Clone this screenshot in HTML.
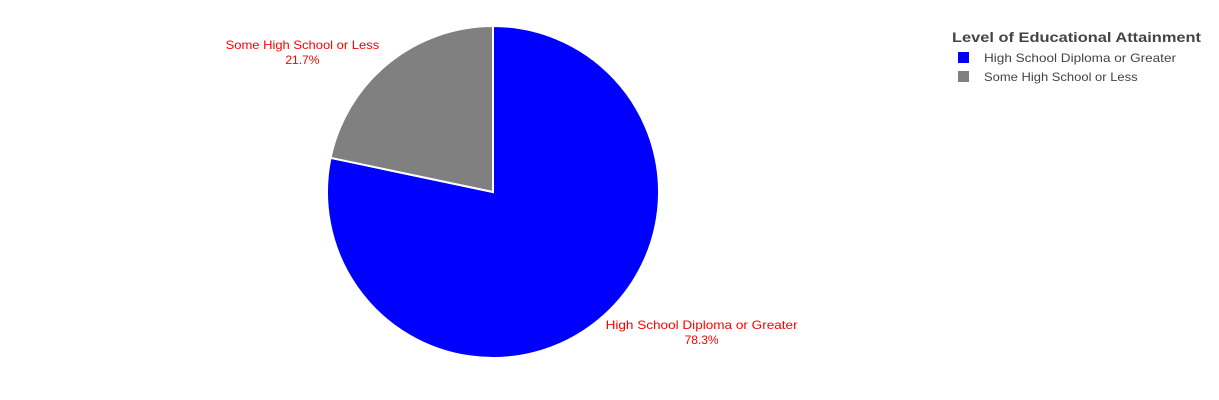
<!DOCTYPE html>
<html><head><meta charset="utf-8"><style>
html,body{margin:0;background:#fff;width:1219px;height:400px;overflow:hidden;font-family:"Liberation Sans",Arial,sans-serif;}
svg{display:block;}
</style></head><body>
<svg id="chart" width="1219" height="400" xmlns="http://www.w3.org/2000/svg">
<g id="slices"></g>
<g id="labels"></g>
<g>
<text x="952" y="42" font-size="14" font-weight="bold" fill="#444" textLength="249" lengthAdjust="spacingAndGlyphs">Level of Educational Attainment</text>
<g id="legendItems"></g>
</g>
</svg>
<script>
const categories = ["High School Diploma or Greater", "Some High School or Less"];
const values = [78.3, 21.7];
const percentLabels = ["78.3%", "21.7%"];
const colors = ["#0000ff", "#808080"];
const cx = 493, cy = 192, r = 166;
const NS = "http://www.w3.org/2000/svg";
const total = values.reduce((a,b)=>a+b,0);
function pt(frac, rad){const a=frac*2*Math.PI;return [cx+rad*Math.sin(a), cy-rad*Math.cos(a)];}
function textW(s){return s.length*6.4;}
const slicesG=document.getElementById('slices'), labelsG=document.getElementById('labels'), legG=document.getElementById('legendItems');
let acc=0;
values.forEach((v,i)=>{
  const f0=acc/total, f1=(acc+v)/total; acc+=v;
  const [x0,y0]=pt(f0,r),[x1,y1]=pt(f1,r);
  const large=(f1-f0)>0.5?1:0;
  const p=document.createElementNS(NS,'path');
  p.setAttribute('d',`M${cx},${cy}L${x0},${y0}A${r},${r} 0 ${large} 1 ${x1},${y1}Z`);
  p.setAttribute('fill',colors[i]);p.setAttribute('stroke','#fff');p.setAttribute('stroke-width','2');
  
  
  slicesG.appendChild(p);
  const mid=(f0+f1)/2;
  const [mx,my]=pt(mid,r);
  const right=mx>cx;
  const lx=right?mx+104:mx-86, ly=right?my+8:my-14;
  const t=document.createElementNS(NS,'text');
  t.setAttribute('x',lx);t.setAttribute('y',ly);t.setAttribute('text-anchor','middle');
  t.setAttribute('font-size','12');t.setAttribute('fill','#ff0000');
  
  
  const s1=document.createElementNS(NS,'tspan');s1.setAttribute('x',lx);s1.textContent=categories[i];
  s1.setAttribute('textLength',textW(categories[i]));s1.setAttribute('lengthAdjust','spacingAndGlyphs');
  const s2=document.createElementNS(NS,'tspan');s2.setAttribute('x',lx);s2.setAttribute('dy','15');s2.textContent=percentLabels[i];
  t.appendChild(s1);t.appendChild(s2);labelsG.appendChild(t);
  const g=document.createElementNS(NS,'g');
  
  
  const sq=document.createElementNS(NS,'rect');
  sq.setAttribute('x',958);sq.setAttribute('y',52+i*19);sq.setAttribute('width',11);sq.setAttribute('height',11);sq.setAttribute('fill',colors[i]);
  const lt=document.createElementNS(NS,'text');
  lt.setAttribute('x',984);lt.setAttribute('y',62+i*19);lt.setAttribute('font-size','12');lt.setAttribute('fill','#444');
  lt.setAttribute('textLength',textW(categories[i]));lt.setAttribute('lengthAdjust','spacingAndGlyphs');
  lt.textContent=categories[i];
  g.appendChild(sq);g.appendChild(lt);legG.appendChild(g);
});
</script>
</body></html>
